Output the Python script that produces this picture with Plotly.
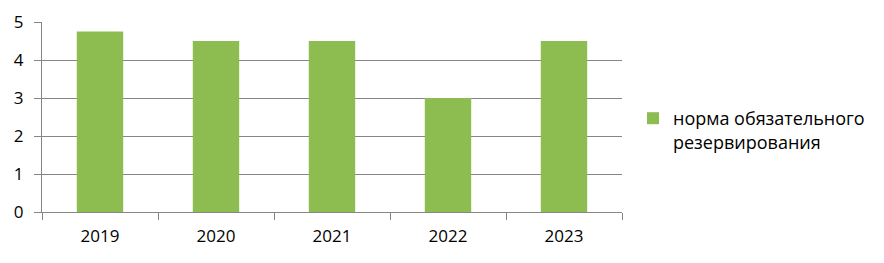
import plotly.graph_objects as go

years = ["2019", "2020", "2021", "2022", "2023"]
values = [4.75, 4.5, 4.5, 3, 4.5]
series_name = "норма обязательного<br>резервирования"
y_ticks = [0, 1, 2, 3, 4, 5]

W, H = 876, 255  # page adds an 8px body margin

fig = go.Figure()
fig.add_trace(go.Bar(
    x=years, y=values, name=series_name,
    marker=dict(color="#8DBD50", line=dict(width=0)),
    width=0.4, showlegend=True,
))

fig.update_layout(
    width=W, height=H,
    margin=dict(l=34, r=262, t=14, b=51),
    paper_bgcolor="white", plot_bgcolor="white",
    font=dict(family="Open Sans, Liberation Sans, sans-serif", size=17, color="#000000"),
    showlegend=True,
    legend=dict(
        xref="container", yref="container",
        x=625 / W, y=1 - 92 / H, xanchor="left", yanchor="top",
        font=dict(size=18), itemwidth=30, valign="top",
        bgcolor="rgba(0,0,0,0)",
    ),
)
fig.update_xaxes(
    type="category", showline=True, linecolor="#868686", linewidth=1,
    ticks="outside", tickson="boundaries", ticklen=7, tickcolor="#868686",
    showgrid=False, tickfont=dict(size=17), ticklabelstandoff=9,
    automargin=False,
)
fig.update_yaxes(
    range=[0, 5], tickvals=y_ticks, showline=True, linecolor="#868686", linewidth=1,
    ticks="outside", ticklen=7, tickcolor="#868686",
    showgrid=True, gridcolor="#868686", gridwidth=1, zeroline=False,
    tickfont=dict(size=17), ticklabelstandoff=7, automargin=False,
)

fig.write_html("out.html")
